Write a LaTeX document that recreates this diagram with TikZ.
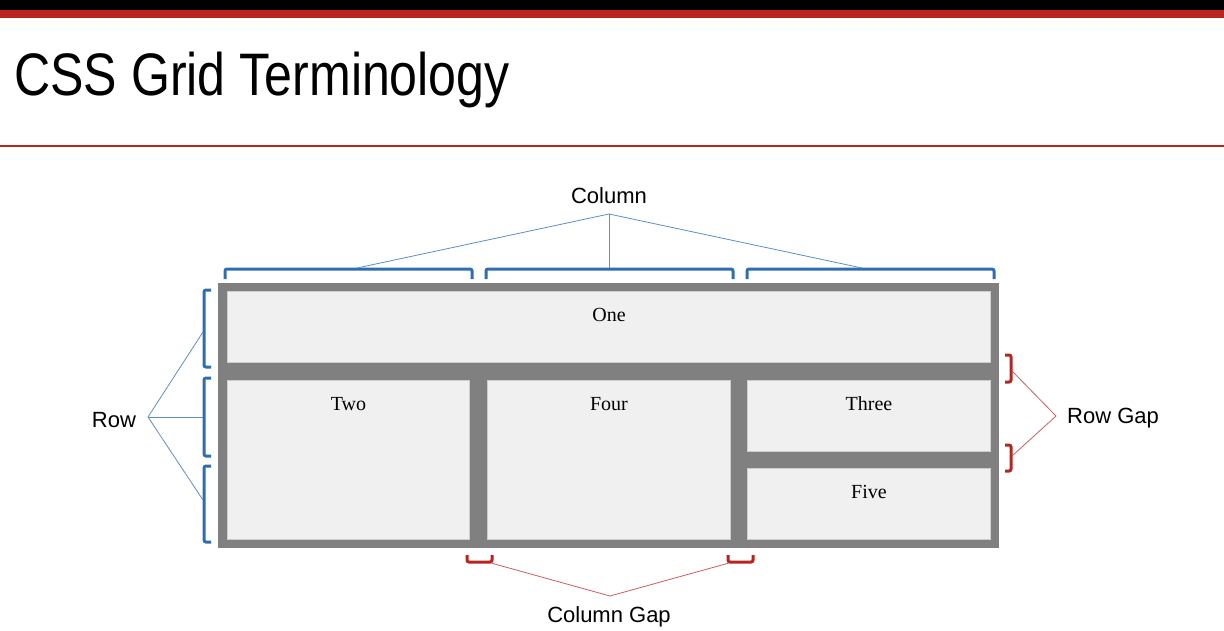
\documentclass[tikz,border=0pt]{standalone}
\usepackage{fontspec}
\usepackage{graphicx}
\setmainfont{Liberation Serif}
\setsansfont{Liberation Sans}
\definecolor{barred}{RGB}{186,38,30}
\definecolor{gridgray}{RGB}{128,128,128}
\definecolor{cellfill}{RGB}{240,240,240}
\definecolor{cellline}{RGB}{205,205,205}
\definecolor{trackblue}{RGB}{46,109,180}
\definecolor{lineblue}{RGB}{92,142,200}
\definecolor{gapred}{RGB}{183,36,30}
\definecolor{linered}{RGB}{210,92,92}
\tikzset{
  cell/.style={draw=cellline, fill=cellfill, line width=1pt, anchor=north west, inner sep=0pt},
  celltext/.style={font=\rmfamily\fontsize{20}{24}\selectfont, inner sep=0pt, anchor=base},
  term/.style={font=\sffamily\fontsize{22}{26}\selectfont, inner sep=0pt},
  trackbrace/.style={draw=trackblue, line width=3pt, rounded corners=2pt},
  gapbrace/.style={draw=gapred, line width=3pt, rounded corners=2pt},
  trackline/.style={draw=lineblue, line width=0.8pt},
  gapline/.style={draw=linered, line width=0.8pt},
}
\begin{document}
\begin{tikzpicture}[x=1pt, y=-1pt]
    \useasboundingbox (0,0) rectangle (1224,630);
    % slide header
    \fill[black] (0,0) rectangle (1224,10);
    \fill[barred] (0,10) rectangle (1224,18);
    \node[anchor=base west, inner sep=0pt, font=\sffamily\fontsize{60}{60}\selectfont] (title) at (14,95) {\scalebox{0.835}[1]{CSS Grid Terminology}};
    \fill[barred] (0,145) rectangle (1224,147);

    % grid container and items
    \node[fill=gridgray, anchor=north west, inner sep=0pt, minimum width=781pt, minimum height=265pt] (container) at (218,283) {};
    \node[cell, minimum width=763pt, minimum height=71pt] (one) at (227,291) {};
    \node[cell, minimum width=242pt, minimum height=159pt] (two) at (227,380) {};
    \node[cell, minimum width=243pt, minimum height=159pt] (four) at (487,380) {};
    \node[cell, minimum width=243pt, minimum height=71pt] (three) at (747,380) {};
    \node[cell, minimum width=243pt, minimum height=71pt] (five) at (747,468) {};
    \node[celltext] (oneText) at ([yshift=-30pt]one.north) {One};
    \node[celltext] (twoText) at ([yshift=-30pt]two.north) {Two};
    \node[celltext] (fourText) at ([yshift=-30pt]four.north) {Four};
    \node[celltext] (threeText) at ([yshift=-30pt]three.north) {Three};
    \node[celltext] (fiveText) at ([yshift=-30pt]five.north) {Five};

    % column tracks
    \draw[trackbrace] (225,279) -- (225,269) -- (472,269) -- (472,279);
    \draw[trackbrace] (486,279) -- (486,269) -- (733,269) -- (733,279);
    \draw[trackbrace] (747,279) -- (747,269) -- (994,269) -- (994,279);
    \coordinate (colA) at (357,268);
    \coordinate (colB) at (609,268);
    \coordinate (colC) at (862,268);
    \node[term, anchor=base] (column) at (609,203) {Column};
    \coordinate (colTip) at (609,214);
    \draw[trackline] (colTip) -- (colA);
    \draw[trackline] (colTip) -- (colB);
    \draw[trackline] (colTip) -- (colC);

    % row tracks
    \draw[trackbrace] (211,290) -- (204,290) -- (204,367) -- (211,367);
    \draw[trackbrace] (211,378) -- (204,378) -- (204,456) -- (211,456);
    \draw[trackbrace] (211,466) -- (204,466) -- (204,542) -- (211,542);
    \coordinate (rowA) at (203,332);
    \coordinate (rowB) at (203,417);
    \coordinate (rowC) at (203,500);
    \node[term, anchor=base] (row) at (114,427) {Row};
    \coordinate (rowTip) at (148,417);
    \draw[trackline] (rowTip) -- (rowA);
    \draw[trackline] (rowTip) -- (rowB);
    \draw[trackline] (rowTip) -- (rowC);

    % row gaps
    \draw[gapbrace] (1005,355) -- (1011,355) -- (1011,382) -- (1005,382);
    \draw[gapbrace] (1005,445) -- (1011,445) -- (1011,471) -- (1005,471);
    \coordinate (rowGapA) at (1012,371);
    \coordinate (rowGapB) at (1012,456);
    \node[term, anchor=base west] (rowGap) at (1067,423) {Row Gap};
    \coordinate (rowGapTip) at (1056,416);
    \draw[gapline] (rowGapTip) -- (rowGapA);
    \draw[gapline] (rowGapTip) -- (rowGapB);

    % column gaps
    \draw[gapbrace] (467,555) -- (467,562) -- (492,562) -- (492,555);
    \draw[gapbrace] (728,555) -- (728,562) -- (753,562) -- (753,555);
    \coordinate (colGapA) at (491,563);
    \coordinate (colGapB) at (729,563);
    \node[term, anchor=base] (colGap) at (609,622) {Column Gap};
    \coordinate (colGapTip) at (610,596);
    \draw[gapline] (colGapTip) -- (colGapA);
    \draw[gapline] (colGapTip) -- (colGapB);
\end{tikzpicture}
\end{document}
